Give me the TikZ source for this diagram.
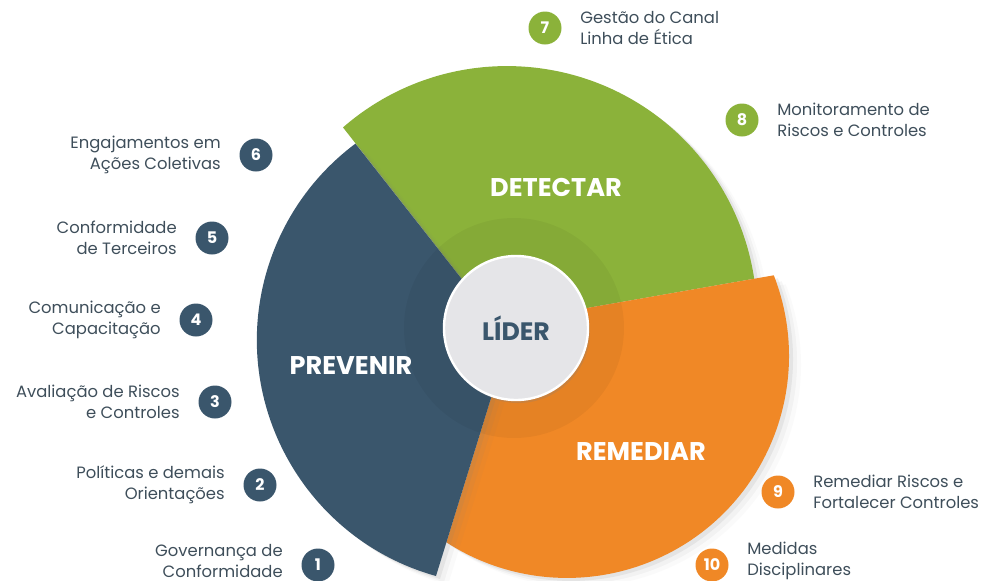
\documentclass[tikz,border=0pt]{standalone}
\usepackage{fontspec}
\setmainfont{Poppins}
\usepackage{tikz}
\usetikzlibrary{positioning, shadows}
\usepackage{xcolor}
\definecolor{prevblue}{RGB}{58,86,108}
\definecolor{detgreen}{RGB}{139,178,58}
\definecolor{remorange}{RGB}{240,136,38}
\definecolor{txtgray}{RGB}{62,78,90}
\definecolor{lidergray}{RGB}{229,229,232}

\begin{document}
\begin{tikzpicture}[x=0.5pt, y=-0.5pt, node distance=9pt]
    \tikzstyle{num} = [circle, fill=prevblue, text=white, minimum size=16.5pt, inner sep=0pt, font=\fontsize{8}{8}\selectfont\bfseries]
    \tikzstyle{desc} = [text=txtgray, inner sep=0pt, font=\fontsize{8.2}{10.3}\selectfont]
    \tikzstyle{phase} = [text=white, font=\fontsize{12.8}{13}\selectfont\bfseries]
    \tikzstyle{sector} = [drop shadow={shadow xshift=2pt, shadow yshift=-1.5pt, opacity=.12}, drop shadow={shadow xshift=4pt, shadow yshift=-3pt, opacity=.07}, drop shadow={shadow xshift=6pt, shadow yshift=-4.5pt, opacity=.04}]

    \useasboundingbox (0,0) rectangle (998,580);

    % 扇形
    \path[sector, fill=detgreen] (494,320) -- (343,127.4) arc[start angle=-131, end angle=-8.6, radius=250] -- (530,318) -- cycle;
    \path[sector, fill=remorange] (530,318) -- (773.8,275.3) arc[start angle=-21.3, end angle=122.9, radius=222] -- (509,340) -- cycle;
    \path[sector, fill=prevblue] (509,340) -- (436,576) arc[start angle=105.6, end angle=233.3, radius=245] -- (494,320) -- cycle;
    \fill[black, opacity=.045] (514,328) circle[radius=110];

    % 定义节点
    \node[circle, fill=lidergray, draw=white, line width=1.2pt, minimum size=72pt, drop shadow={opacity=.25, shadow xshift=1pt, shadow yshift=-1.5pt}, text=prevblue, font=\fontsize{12.6}{13}\selectfont\bfseries] (lider) at (516,328) {LÍDER};
    \node[phase] (detectar) at (556,187) {DETECTAR};
    \node[phase] (prevenir) at (351,366) {PREVENIR};
    \node[phase] (remediar) at (641,452) {REMEDIAR};

    \node[num] (n1) at (318,565) {1};
    \node[desc, left=of n1, align=right, yshift=2pt] (t1) {Governança de\\Conformidade};
    \node[num] (n2) at (260,485) {2};
    \node[desc, left=of n2, align=right] (t2) {Políticas e demais\\Orientações};
    \node[num] (n3) at (215,402) {3};
    \node[desc, left=of n3, align=right] (t3) {Avaliação de Riscos\\e Controles};
    \node[num] (n4) at (196,320) {4};
    \node[desc, left=of n4, align=right] (t4) {Comunicação e\\Capacitação};
    \node[num] (n5) at (212,238) {5};
    \node[desc, left=of n5, align=right] (t5) {Conformidade\\de Terceiros};
    \node[num] (n6) at (256,155) {6};
    \node[desc, left=of n6, align=right] (t6) {Engajamentos em\\Ações Coletivas};

    \node[num, fill=detgreen] (n7) at (545,28) {7};
    \node[desc, right=of n7, align=left] (t7) {Gestão do Canal\\Linha de Ética};
    \node[num, fill=detgreen] (n8) at (742,120) {8};
    \node[desc, right=of n8, align=left] (t8) {Monitoramento de\\Riscos e Controles};
    \node[num, fill=remorange] (n9) at (778,492) {9};
    \node[desc, right=of n9, align=left] (t9) {Remediar Riscos e\\Fortalecer Controles};
    \node[num, fill=remorange] (n10) at (712,565) {10};
    \node[desc, right=of n10, align=left, yshift=2pt] (t10) {Medidas\\Disciplinares};
\end{tikzpicture}
\end{document}
